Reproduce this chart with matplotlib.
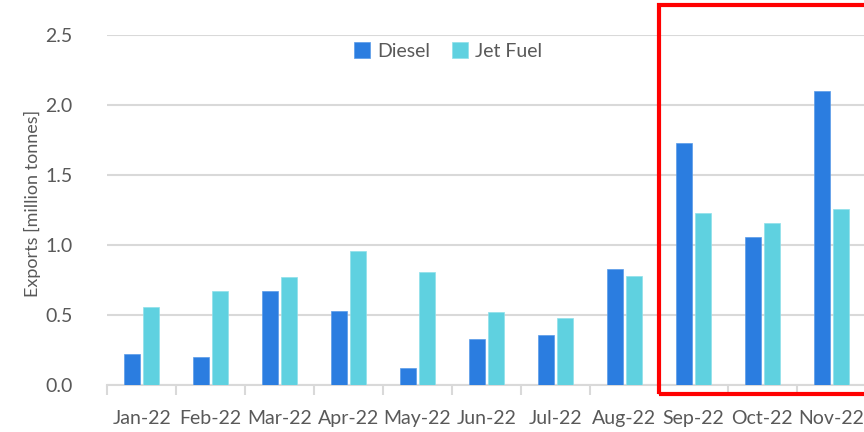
import numpy as np
import matplotlib
matplotlib.use('Agg')
import matplotlib.pyplot as plt
from matplotlib.patches import Rectangle

# data
months = ['Jan-22', 'Feb-22', 'Mar-22', 'Apr-22', 'May-22', 'Jun-22',
          'Jul-22', 'Aug-22', 'Sep-22', 'Oct-22', 'Nov-22']
diesel = [0.22, 0.20, 0.67, 0.53, 0.12, 0.33, 0.36, 0.83, 1.73, 1.06, 2.10]
jet_fuel = [0.56, 0.67, 0.77, 0.96, 0.81, 0.52, 0.48, 0.78, 1.23, 1.16, 1.26]

plt.rcParams['font.family'] = ['Lato', 'DejaVu Sans']
grey = '#595959'

fig = plt.figure(figsize=(8.64, 4.32), dpi=100)
ax = fig.add_axes([0.124, 0.109, 0.878, 0.81])

x = np.arange(len(months))
w = 0.23
ax.bar(x - 0.14, diesel, w, color='#2b7de0', edgecolor='#5a9be8', linewidth=0.5,
       label='Diesel', zorder=3)
ax.bar(x + 0.14, jet_fuel, w, color='#5fd1e0', edgecolor='#8fe0ea', linewidth=0.5,
       label='Jet Fuel', zorder=3)

ax.set_xlim(-0.5, len(months) - 0.5)
ax.set_ylim(0, 2.5)
ax.set_yticks(np.arange(0, 2.51, 0.5))
ax.set_yticklabels(['%.1f' % v for v in np.arange(0, 2.51, 0.5)])
ax.yaxis.grid(True, color='#d9d9d9', linewidth=1.5, zorder=0)
ax.set_axisbelow(True)

ax.set_xticks(x)
ax.set_xticklabels(months)
ax.set_xticks(np.arange(-0.5, len(months), 1), minor=True)
ax.tick_params(axis='x', which='major', length=0, pad=18, labelsize=14, colors=grey)
ax.tick_params(axis='x', which='minor', length=7, width=1.5, color='#d9d9d9')
ax.tick_params(axis='y', length=0, pad=25, labelsize=14, colors=grey)

for s in ['top', 'right', 'left']:
    ax.spines[s].set_visible(False)
ax.spines['bottom'].set_color('#d9d9d9')
ax.spines['bottom'].set_linewidth(1.5)
ax.spines['bottom'].set_clip_on(False)

ax.set_ylabel('Exports [million tonnes]', fontsize=13, color=grey)
ax.yaxis.set_label_coords(-0.087, 0.52)

ax.legend(loc='center', bbox_to_anchor=(0.45, 0.955), ncol=2, frameon=False,
          fontsize=14, labelcolor=grey, handlelength=0.8, handleheight=0.9,
          columnspacing=1.1, handletextpad=0.4)

# red highlight box
fig.patches.append(Rectangle((659 / 864, 1 - 394 / 432), 0.26, 389 / 432,
                             transform=fig.transFigure, fill=False,
                             edgecolor='red', linewidth=3, zorder=10))

fig.savefig('out.png', dpi=100)
